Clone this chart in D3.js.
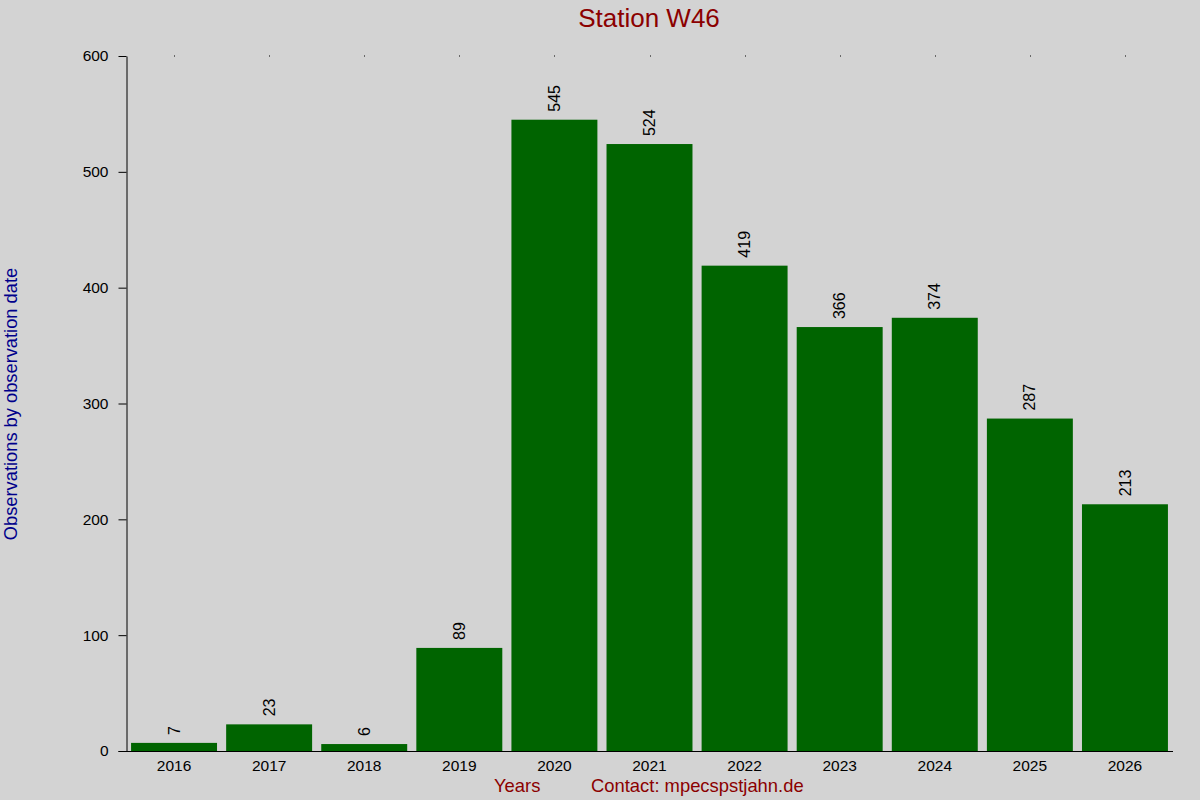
<!DOCTYPE html>
<html>
<head>
<meta charset="utf-8">
<script src="https://cdn.jsdelivr.net/npm/d3@7"></script>
<style>
  html, body { margin: 0; padding: 0; background: #d3d3d3; }
  svg { display: block; font-family: "Liberation Sans", Arial, sans-serif; }
</style>
</head>
<body>
<div id="chart"></div>
<script>
// Observations per year
const years = ['2016', '2017', '2018', '2019', '2020', '2021', '2022', '2023', '2024', '2025', '2026'];
const counts = [7, 23, 6, 89, 545, 524, 419, 366, 374, 287, 213];
const yTicks = [0, 100, 200, 300, 400, 500, 600];

const width = 1200;
const height = 800;
const margin = { top: 56, right: 27.5, bottom: 49, left: 126.5 };

const svg = d3.select('#chart')
    .append('svg')
    .attr('width', width)
    .attr('height', height);

svg.append('rect')
    .attr('width', width)
    .attr('height', height)
    .attr('fill', '#d3d3d3');

const x = d3.scaleBand()
    .domain(years)
    .range([margin.left, width - margin.right])
    .paddingInner(0.096)
    .paddingOuter(0.048);

const y = d3.scaleLinear()
    .domain([0, 600])
    .range([height - margin.bottom, margin.top]);

// Bars
svg.append('g')
    .selectAll('rect')
    .data(years)
    .join('rect')
    .attr('x', d => x(d))
    .attr('y', (d, i) => y(counts[i]))
    .attr('width', x.bandwidth())
    .attr('height', (d, i) => y(0) - y(counts[i]))
    .attr('fill', '#006400');

// Value labels, rotated
svg.append('g')
    .selectAll('text')
    .data(years)
    .join('text')
    .attr('transform', (d, i) => `translate(${x(d) + x.bandwidth() / 2},${y(counts[i]) - 8}) rotate(-90)`)
    .attr('dy', '0.35em')
    .attr('text-anchor', 'start')
    .attr('font-size', 16)
    .attr('fill', '#000')
    .text((d, i) => counts[i]);

// Y axis
const yAxis = svg.append('g')
    .attr('transform', `translate(${margin.left},0)`)
    .call(d3.axisLeft(y).tickValues(yTicks).tickSize(8).tickPadding(10).tickSizeOuter(0));
yAxis.selectAll('text').attr('font-size', 15.5).attr('font-family', '"Liberation Sans", Arial, sans-serif').attr('fill', '#000');
yAxis.selectAll('line, path').attr('stroke', '#000');

// X axis: baseline plus labels, no tick marks
svg.append('line')
    .attr('x1', margin.left - 8)
    .attr('x2', width - margin.right + 0.5)
    .attr('y1', y(0) + 0.5)
    .attr('y2', y(0) + 0.5)
    .attr('stroke', '#000');

svg.append('g')
    .selectAll('text')
    .data(years)
    .join('text')
    .attr('x', d => x(d) + x.bandwidth() / 2)
    .attr('y', y(0) + 19.5)
    .attr('text-anchor', 'middle')
    .attr('font-size', 15.5)
    .attr('fill', '#000')
    .text(d => d);

// Small dots along the top edge
svg.append('g')
    .selectAll('rect')
    .data(years)
    .join('rect')
    .attr('x', d => Math.round(x(d) + x.bandwidth() / 2))
    .attr('y', margin.top - 0.5)
    .attr('width', 1)
    .attr('height', 1)
    .attr('fill', '#000');

// Title
svg.append('text')
    .attr('x', 649)
    .attr('y', 27)
    .attr('text-anchor', 'middle')
    .attr('font-size', 26)
    .attr('fill', '#8b0000')
    .text('Station W46');

// Axis titles
svg.append('text')
    .attr('x', 494)
    .attr('y', 792)
    .attr('font-size', 18.4)
    .attr('fill', '#8b0000')
    .text('Years');

svg.append('text')
    .attr('x', 591)
    .attr('y', 792)
    .attr('font-size', 18.4)
    .attr('fill', '#8b0000')
    .text('Contact: mpecspstjahn.de');

svg.append('text')
    .attr('transform', 'translate(17,404) rotate(-90)')
    .attr('text-anchor', 'middle')
    .attr('font-size', 18.3)
    .attr('fill', '#00008b')
    .text('Observations by observation date');
</script>
</body>
</html>
